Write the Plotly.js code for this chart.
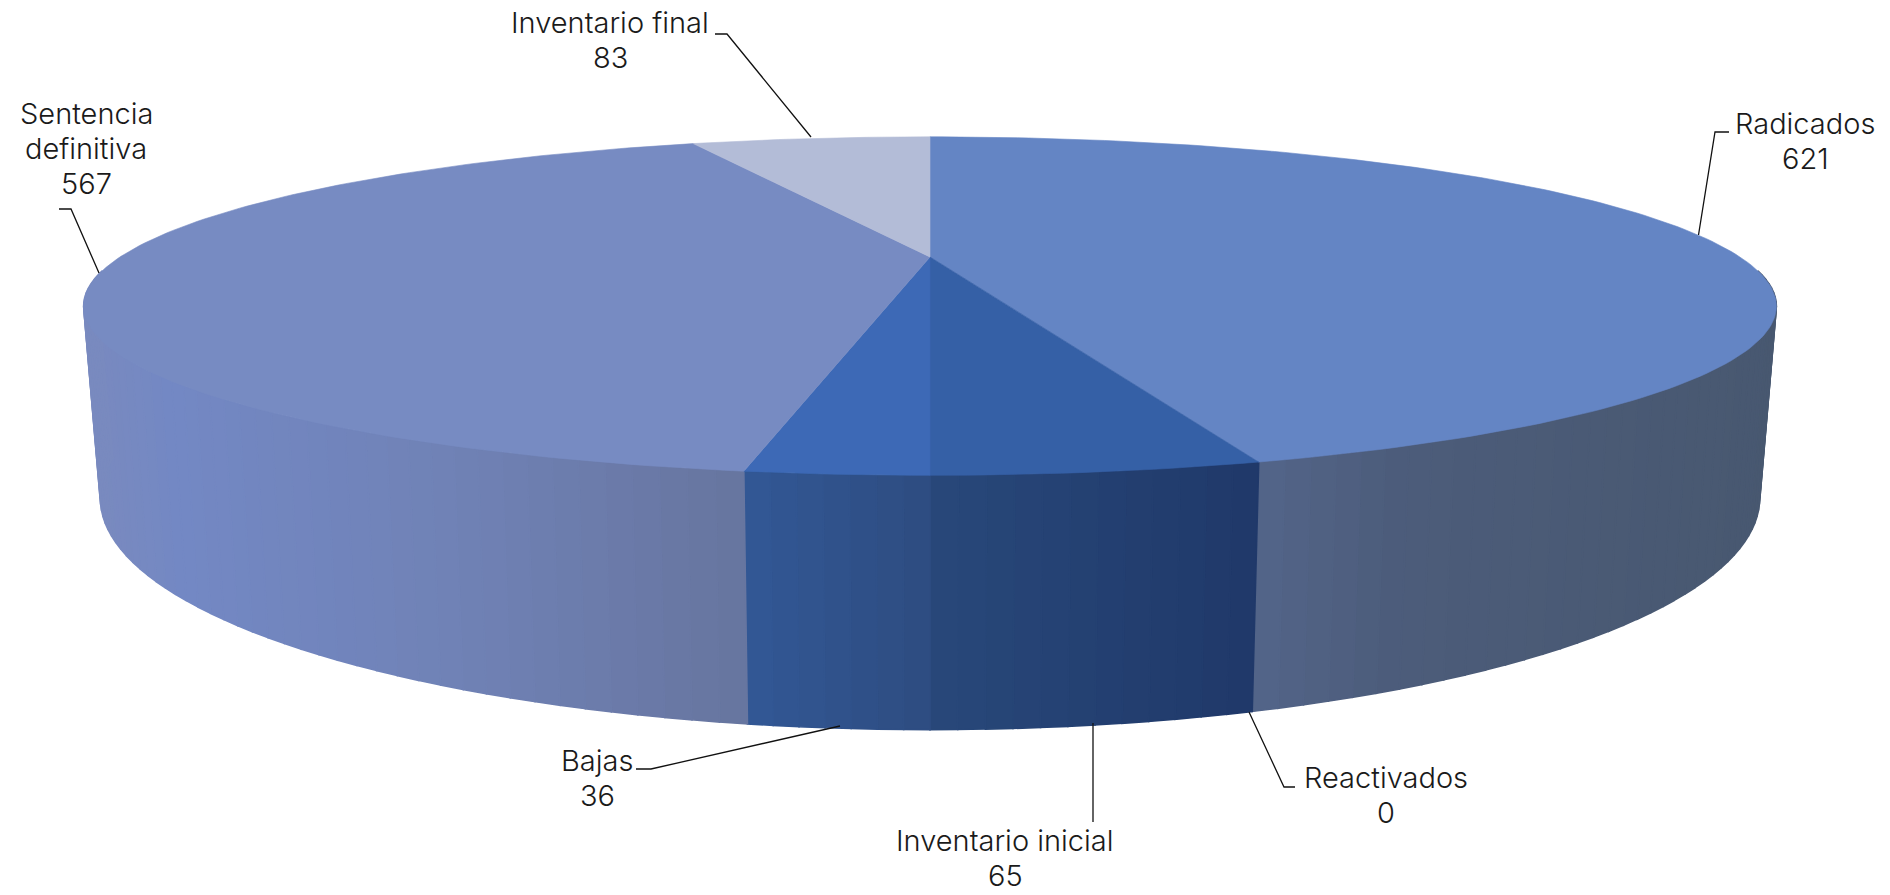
<!DOCTYPE html>
<html>
<head>
<meta charset="utf-8">
<script src="https://cdn.plot.ly/plotly-3.0.0.min.js"></script>
<style>html,body{margin:0;padding:0;background:#fff;overflow:hidden}#chart{width:1890px;height:895px}</style>
</head>
<body>
<div id="chart"></div>
<script>
// Data
const categories = ["Radicados","Reactivados","Inventario inicial","Bajas","Sentencia definitiva","Inventario final"];
const values = [621,0,65,36,567,83];
const labelLines = [["Radicados"],["Reactivados"],["Inventario inicial"],["Bajas"],["Sentencia","definitiva"],["Inventario final"]];

// Styles
const topColors = ["#6485C4","#6485C4","#3560A6","#3D69B6","#778BC2","#B3BCD7"];
const wallStops = [
  [[1248,[83,101,138]],[1400,[76,92,122]],[1776,[72,88,112]]],
  [[1248,[83,101,138]],[1776,[72,88,112]]],
  [[930,[40,72,122]],[1245,[32,57,106]]],
  [[745,[50,88,150]],[930,[46,76,128]]],
  [[84,[122,138,190]],[180,[115,136,196]],[450,[112,130,182]],[745,[103,117,159]]],
  [[84,[122,138,190]],[180,[115,136,196]]]
];
const labelPos = [[1805,123],[1386,777],[1005,840.5],[597,760],[86,113],[610,22]];
const lineGap = 35;
const leaders = [
  "M1729,132 L1715,132 L1698.5,235",
  "M1249,712 L1284,787 L1295,787",
  "M1093,723 L1093,822",
  "M840,726 L651,769 L636,769",
  "M59,209 L71,209 L99,273",
  "M715,34 L727,34 L811,137"
];

// Projection of the pie disc
const cx = 930, k = 0.29;
const topDisc = {w:810, y0:257, h:155};
const botDisc = {w:794, y0:431, h:212};
function project(d, deg){
  const t = deg*Math.PI/180, X = Math.sin(t), Y = -Math.cos(t), q = 1-k*Y;
  return [cx + d.w*X/q, d.y0 + d.h*Y/q];
}
function colorAt(stops, x){
  if (x <= stops[0][0]) return stops[0][1];
  for (let i=1;i<stops.length;i++){
    if (x <= stops[i][0]){
      const f = (x-stops[i-1][0])/(stops[i][0]-stops[i-1][0]);
      return stops[i-1][1].map((c,j)=>Math.round(c+f*(stops[i][1][j]-c)));
    }
  }
  return stops[stops.length-1][1];
}
const total = values.reduce((a,b)=>a+b,0);
const traces = [];
const tops = [];
let acc = 0;
values.forEach((v,i)=>{
  const a0 = acc/total*360, a1 = (acc+v)/total*360;
  acc += v;
  if (v === 0) return;
  // outer wall, only the part that faces the viewer
  const w0 = Math.max(a0,95), w1 = Math.min(a1,265);
  if (w1 > w0){
    const n = Math.max(1,Math.ceil((w1-w0)/1.5));
    for (let s=0;s<n;s++){
      const p = w0+(w1-w0)*s/n, q = w0+(w1-w0)*(s+1)/n;
      const A = project(topDisc,p), B = project(topDisc,q), C = project(botDisc,q), D = project(botDisc,p);
      const col = colorAt(wallStops[i],(A[0]+B[0]+C[0]+D[0])/4);
      const css = "rgb("+col.join(",")+")";
      traces.push({type:"scatter",mode:"lines",fill:"toself",fillcolor:css,
        x:[A[0],B[0],C[0],D[0],A[0]],y:[A[1],B[1],C[1],D[1],A[1]],
        line:{color:css,width:1.6},hoverinfo:"skip",showlegend:false});
    }
  }
  // top face
  const xs=[cx], ys=[topDisc.y0];
  const m = Math.max(2,Math.ceil(a1-a0));
  for (let s=0;s<=m;s++){
    const P = project(topDisc,a0+(a1-a0)*s/m);
    xs.push(P[0]); ys.push(P[1]);
  }
  xs.push(cx); ys.push(topDisc.y0);
  tops.push({type:"scatter",mode:"lines",fill:"toself",fillcolor:topColors[i],
    x:xs,y:ys,line:{color:topColors[i],width:0.6},name:categories[i],
    text:categories[i]+": "+v,hoverinfo:"text",showlegend:false});
});

const font = {family:"Inter, 'Open Sans', sans-serif",size:29,color:"#1a1a1a",weight:300};
const annotations = [];
categories.forEach((c,i)=>{
  labelLines[i].concat([String(values[i])]).forEach((t,j)=>{
    annotations.push({x:labelPos[i][0],y:labelPos[i][1]+j*lineGap,xref:"x",yref:"y",
      xanchor:"center",yanchor:"middle",showarrow:false,align:"center",text:t,font:font});
  });
});
const layout = {
  width:1890,height:895,margin:{l:0,r:0,t:0,b:0},
  paper_bgcolor:"#fff",plot_bgcolor:"#fff",showlegend:false,
  xaxis:{range:[0,1890],visible:false,fixedrange:true},
  yaxis:{range:[895,0],visible:false,fixedrange:true},
  shapes:leaders.map(p=>({type:"path",path:p,xref:"x",yref:"y",line:{color:"#111",width:1.3}})),
  annotations:annotations
};
Plotly.newPlot("chart",traces.concat(tops),layout,{displayModeBar:false,staticPlot:true});
</script>
</body>
</html>
